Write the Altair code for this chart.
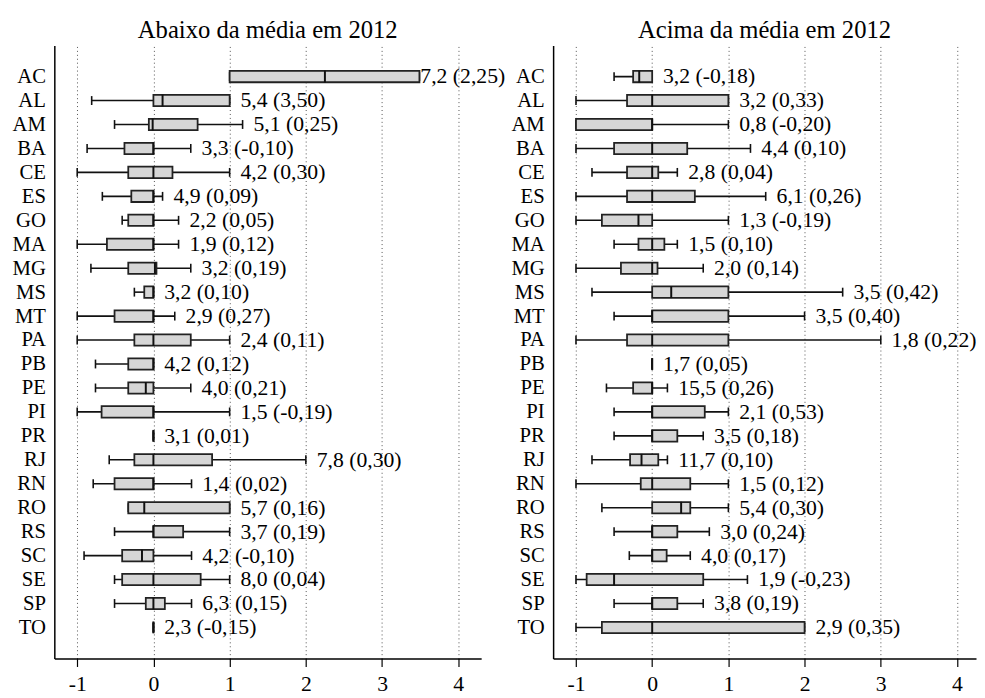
import json
import altair as alt
import pandas as pd

FONT = "Liberation Serif"

states = ["AC", "AL", "AM", "BA", "CE", "ES", "GO", "MA", "MG", "MS", "MT", "PA",
          "PB", "PE", "PI", "PR", "RJ", "RN", "RO", "RS", "SC", "SE", "SP", "TO"]

# Abaixo da média em 2012
a_lo  = [1.00, -0.81, -0.51, -0.87, -1.00, -0.67, -0.41, -1.00, -0.82, -0.25, -1.00, -1.00,
         -0.76, -0.76, -1.00, 0.00, -0.58, -0.79, -0.33, -0.51, -0.91, -0.51, -0.51, 0.00]
a_q1  = [1.00, 0.00, -0.06, -0.38, -0.33, -0.29, -0.33, -0.61, -0.33, -0.12, -0.51, -0.25,
         -0.33, -0.33, -0.68, 0.00, -0.25, -0.51, -0.33, 0.00, -0.41, -0.41, -0.10, 0.00]
a_med = [2.25, 0.12, -0.01, 0.00, 0.00, 0.00, 0.00, 0.00, 0.02, 0.00, 0.00, 0.00,
         0.00, -0.10, 0.00, 0.00, 0.00, 0.00, -0.12, 0.00, -0.15, 0.00, 0.00, 0.00]
a_q3  = [3.49, 1.00, 0.58, 0.00, 0.25, 0.00, 0.00, 0.00, 0.04, 0.00, 0.00, 0.49,
         0.00, 0.00, 0.00, 0.00, 0.77, 0.00, 1.00, 0.39, 0.00, 0.62, 0.15, 0.00]
a_hi  = [3.49, 1.00, 1.17, 0.49, 1.00, 0.12, 0.33, 0.33, 0.49, 0.00, 0.28, 1.00,
         0.00, 0.49, 1.00, 0.00, 2.00, 0.50, 1.00, 1.00, 0.50, 1.00, 0.50, 0.00]
a_lab = ["7,2 (2,25)", "5,4 (3,50)", "5,1 (0,25)", "3,3 (-0,10)", "4,2 (0,30)", "4,9 (0,09)",
         "2,2 (0,05)", "1,9 (0,12)", "3,2 (0,19)", "3,2 (0,10)", "2,9 (0,27)", "2,4 (0,11)",
         "4,2 (0,12)", "4,0 (0,21)", "1,5 (-0,19)", "3,1 (0,01)", "7,8 (0,30)", "1,4 (0,02)",
         "5,7 (0,16)", "3,7 (0,19)", "4,2 (-0,10)", "8,0 (0,04)", "6,3 (0,15)", "2,3 (-0,15)"]

# Acima da média em 2012
b_lo  = [-0.50, -1.00, -1.00, -1.00, -0.79, -1.00, -1.00, -0.50, -1.00, -0.79, -0.50, -1.00,
         0.00, -0.60, -0.50, -0.50, -0.79, -1.00, -0.66, -0.50, -0.30, -1.00, -0.50, -1.00]
b_q1  = [-0.25, -0.33, -1.00, -0.50, -0.33, -0.33, -0.66, -0.18, -0.41, 0.00, 0.00, -0.33,
         0.00, -0.25, 0.00, 0.00, -0.29, -0.15, 0.00, 0.00, 0.00, -0.86, 0.00, -0.66]
b_med = [-0.17, 0.00, 0.00, 0.00, 0.00, 0.00, -0.18, 0.00, 0.00, 0.25, 0.00, 0.00,
         0.00, 0.00, 0.00, 0.00, -0.14, 0.00, 0.38, 0.00, 0.00, -0.50, 0.00, 0.00]
b_q3  = [0.00, 1.00, 0.00, 0.46, 0.08, 0.56, 0.00, 0.16, 0.07, 1.00, 1.00, 1.00,
         0.00, 0.00, 0.69, 0.33, 0.08, 0.50, 0.50, 0.33, 0.19, 0.67, 0.33, 2.00]
b_hi  = [0.00, 1.00, 1.00, 1.29, 0.33, 1.49, 1.00, 0.33, 0.67, 2.50, 2.00, 3.00,
         0.00, 0.20, 1.00, 0.67, 0.20, 1.00, 1.00, 0.75, 0.50, 1.25, 0.67, 2.00]
b_lab = ["3,2 (-0,18)", "3,2 (0,33)", "0,8 (-0,20)", "4,4 (0,10)", "2,8 (0,04)", "6,1 (0,26)",
         "1,3 (-0,19)", "1,5 (0,10)", "2,0 (0,14)", "3,5 (0,42)", "3,5 (0,40)", "1,8 (0,22)",
         "1,7 (0,05)", "15,5 (0,26)", "2,1 (0,53)", "3,5 (0,18)", "11,7 (0,10)", "1,5 (0,12)",
         "5,4 (0,30)", "3,0 (0,24)", "4,0 (0,17)", "1,9 (-0,23)", "3,8 (0,19)", "2,9 (0,35)"]

ticks = [-1, 0, 1, 2, 3, 4]
row_idx = list(range(len(states)))
state_js = json.dumps(states)


def panel(title, lo, q1, med, q3, hi, lab, domain, width):
    df = pd.DataFrame(dict(uf=states, row=row_idx, lo=lo, q1=q1, med=med,
                           q3=q3, hi=hi, lab=lab))
    xs = alt.Scale(domain=domain, nice=False, zero=False, padding=0)
    xax = alt.Axis(values=ticks, grid=True, gridDash=[1, 3], gridColor="#505050",
                   gridWidth=1, tickSize=8, tickColor="black", tickWidth=1.2,
                   domainColor="black", domainWidth=1.5, labelFont=FONT,
                   labelFontSize=22, labelColor="black", labelPadding=7,
                   labelExpr="'' + datum.value", title=None)
    yax = alt.Axis(values=row_idx, domain=True, domainColor="black", domainWidth=1.5,
                   ticks=False, grid=False, labelFont=FONT, labelFontSize=21,
                   labelColor="black", labelPadding=9, labelBaseline="middle",
                   labelExpr=state_js + "[datum.value]", title=None)
    ys = alt.Scale(domain=[-1.3, len(states) - 1 + 1.3], reverse=True,
                   nice=False, zero=False, padding=0)

    def X(f):
        return alt.X(f, type="quantitative", scale=xs, axis=xax)

    Y = alt.Y("row:Q", scale=ys, axis=yax)

    base = alt.Chart(df)
    whisk = base.mark_rule(color="#111111", strokeWidth=1.6).encode(
        x=X("lo"), x2="hi", y=Y)
    cap_lo = base.mark_tick(orient="vertical", size=9, thickness=1.6,
                            color="#111111", opacity=1).encode(x=X("lo"), y=Y)
    cap_hi = base.mark_tick(orient="vertical", size=9, thickness=1.6,
                            color="#111111", opacity=1).encode(x=X("hi"), y=Y)
    box = base.mark_bar(orient="horizontal", size=11.5, fill="#d6d6d6",
                        stroke="#222222", strokeWidth=1.8, opacity=1).encode(
        x=X("q1"), x2="q3", y=Y)
    median = base.mark_tick(orient="vertical", size=12, thickness=2,
                            color="#111111", opacity=1).encode(x=X("med"), y=Y)
    text = base.transform_calculate(
        lx="datum.hi == datum.q3 && datum.hi > 3 ? datum.hi - 0.13 : datum.hi"
    ).mark_text(align="left", baseline="middle", dx=11, font=FONT, fontSize=22,
                color="black").encode(x=X("lx:Q"), y=Y, text="lab:N")

    return alt.layer(whisk, cap_lo, cap_hi, box, median, text).properties(
        width=width, height=622,
        title=alt.Title(title, font=FONT, fontSize=25, fontWeight="normal",
                        color="black", offset=3, anchor="middle"))


left = panel("Abaixo da média em 2012", a_lo, a_q1, a_med, a_q3, a_hi, a_lab,
             [-1.3, 4.3], 433)
right = panel("Acima da média em 2012", b_lo, b_q1, b_med, b_q3, b_hi, b_lab,
              [-1.3, 4.25], 429)

chart = alt.hconcat(left, right, spacing=73, bounds="flush").configure_view(
    stroke=None
).properties(
    padding={"left": 4, "top": 5, "right": 0, "bottom": 0},
    background="white"
)

chart.save("out.html", embed_options={"renderer": "svg", "actions": False})
